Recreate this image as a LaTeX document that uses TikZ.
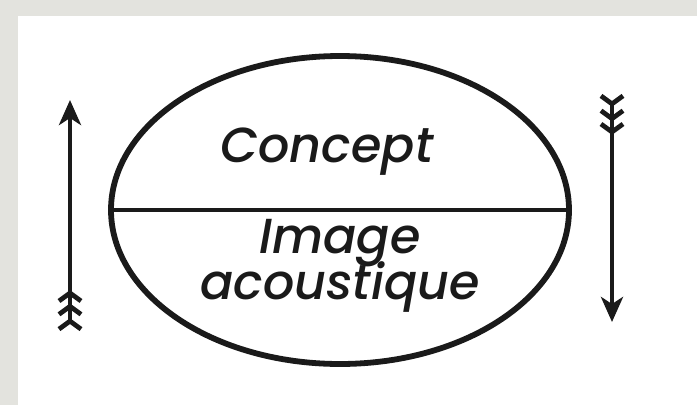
\documentclass[tikz,border=0pt]{standalone}
\usepackage{fontspec}
\setmainfont{Poppins}[ItalicFont={Poppins Medium Italic}]
\usepackage{xcolor}
\usepackage{tikz}
\usetikzlibrary{arrows.meta,positioning,shapes.geometric}
\definecolor{ink}{HTML}{1A1A1A}
\definecolor{paper}{HTML}{FFFFFF}
\definecolor{frame}{HTML}{E3E3DE}
\tikzset{
  signoval/.style={draw=ink,ellipse,line width=3.3pt,inner sep=0pt,
                   minimum width=9.16cm,minimum height=6.16cm},
  labeltext/.style={text=ink,font=\fontsize{28}{24}\selectfont\itshape,
                    anchor=base,inner sep=0pt,align=center},
  arrowsign/.style={{Straight Barb[reversed,length=1.6mm,width=4.4mm,sep=0.3mm]
                     Straight Barb[reversed,length=1.6mm,width=4.4mm,sep=0.3mm]
                     Straight Barb[reversed,length=1.6mm,width=4.4mm]}-{Stealth[length=5mm,width=4.4mm,inset=1.4mm]},
                    line width=2.7pt,ink},
}

\begin{document}
\begin{tikzpicture}
  \useasboundingbox (0,0) rectangle (13.94,8.1);
  \fill[frame] (0,0) rectangle (13.94,8.1);
  \fill[paper] (0.36,0) rectangle (13.94,7.78);
  \node[signoval] (sign) at (6.8,3.9) {};
  \draw[ink,line width=2.1pt] (sign.west) -- (sign.east);
  \node[labeltext] (concept) at (6.54,4.86) {Concept};
  \node[labeltext] (acoustic) at (6.8,2.12) {Image\\[-4.5pt]acoustique};
  \coordinate (leftlow) at (1.4,1.44);
  \coordinate (lefthigh) at (1.4,6.1);
  \coordinate (righthigh) at (12.24,6.26);
  \coordinate (rightlow) at (12.24,1.66);
  \draw[arrowsign] (leftlow) -- (lefthigh);
  \draw[arrowsign] (righthigh) -- (rightlow);
\end{tikzpicture}
\end{document}
